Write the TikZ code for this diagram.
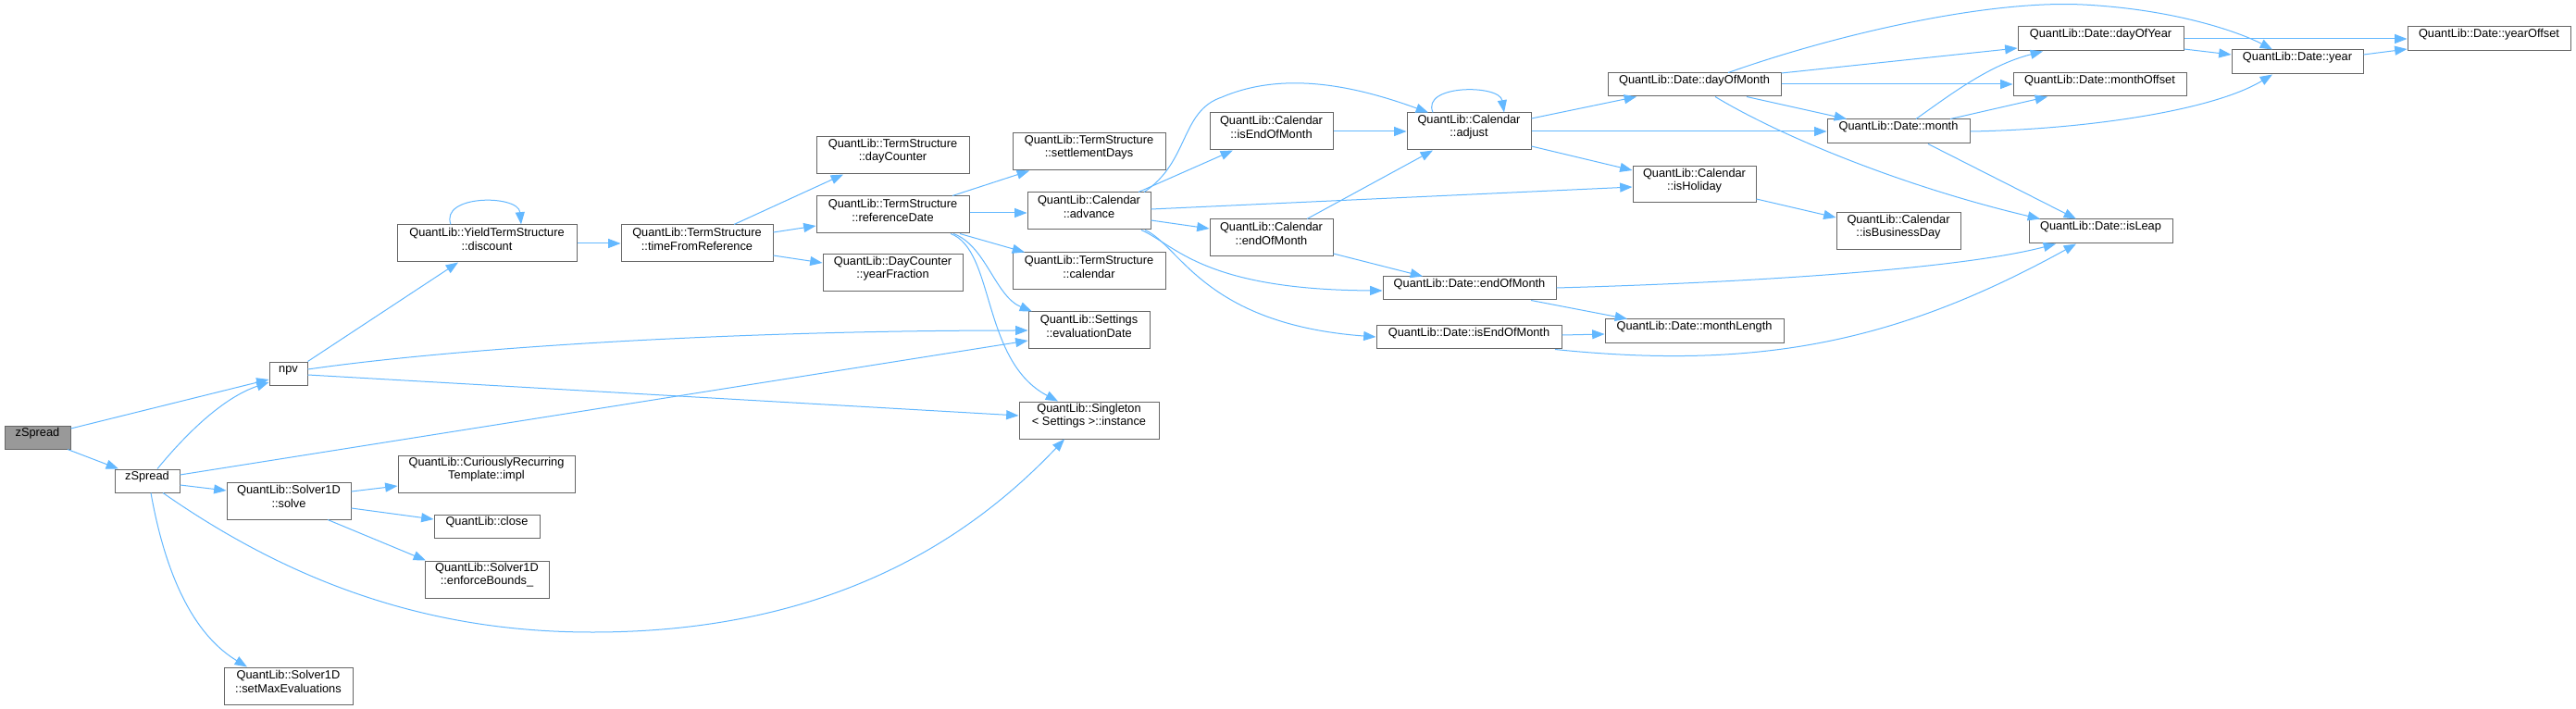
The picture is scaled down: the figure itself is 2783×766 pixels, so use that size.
\documentclass[tikz,border=0pt]{standalone}
\usepackage{fontspec}
\setmainfont{Liberation Sans}
\usetikzlibrary{fit,arrows.meta}
\definecolor{edgeblue}{HTML}{63B8FF}
\definecolor{boxgray}{HTML}{666666}
\definecolor{rootgray}{HTML}{999999}
\tikzset{
  box/.style={draw=boxgray, fill=white, line width=0.75pt, inner sep=0pt, align=center,
    font=\fontsize{9.6}{10.7}\selectfont},
  rootbox/.style={box, fill=rootgray},
  edge/.style={draw=edgeblue, line width=0.75pt, -{Triangle[length=10pt,width=7.5pt]}}
}
\begin{document}
\begin{tikzpicture}[x=0.75pt,y=-0.75pt]
\fill[white] (0,0) rectangle (2783,766);
\useasboundingbox (0,0) rectangle (2783,766);
% nodes
\node[rootbox, fit={(5,460) (76,485)}] (root) {zSpread};
\node[box, fit={(291,391) (332,416)}] (npv) {npv};
\node[box, fit={(124,507) (194,532)}] (zs2) {zSpread};
\node[box, fit={(245,521) (379,561)}] (solve) {QuantLib::Solver1D\\::solve};
\node[box, fit={(242,721) (381,761)}] (setmax) {QuantLib::Solver1D\\::setMaxEvaluations};
\node[box, fit={(429,243) (623,283)}] (disc) {QuantLib::YieldTermStructure\\::discount};
\node[box, fit={(671,243) (835,283)}] (tfr) {QuantLib::TermStructure\\::timeFromReference};
\node[box, fit={(430,492) (621,532)}] (crt) {QuantLib::CuriouslyRecurring\\Template::impl};
\node[box, fit={(469,556) (583,581)}] (close) {QuantLib::close};
\node[box, fit={(459,606) (593,646)}] (enf) {QuantLib::Solver1D\\::enforceBounds\_};
\node[box, fit={(882,148) (1047,188)}] (dayc) {QuantLib::TermStructure\\::dayCounter};
\node[box, fit={(882,212) (1047,252)}] (refd) {QuantLib::TermStructure\\::referenceDate};
\node[box, fit={(889,275) (1040,315)}] (yfr) {QuantLib::DayCounter\\::yearFraction};
\node[box, fit={(1094,144) (1259,184)}] (setd) {QuantLib::TermStructure\\::settlementDays};
\node[box, fit={(1110,208) (1243,248)}] (adv) {QuantLib::Calendar\\::advance};
\node[box, fit={(1094,273) (1259,313)}] (cal) {QuantLib::TermStructure\\::calendar};
\node[box, fit={(1111,337) (1242,377)}] (evd) {QuantLib::Settings\\::evaluationDate};
\node[box, fit={(1101,434) (1252,474)}] (inst) {QuantLib::Singleton\\< Settings >::instance};
\node[box, fit={(1307,122) (1440,162)}] (ieom) {QuantLib::Calendar\\::isEndOfMonth};
\node[box, fit={(1520,122) (1654,162)}] (adj) {QuantLib::Calendar\\::adjust};
\node[box, fit={(1307,237) (1440,277)}] (ceom) {QuantLib::Calendar\\::endOfMonth};
\node[box, fit={(1494,299) (1681,324)}] (deom) {QuantLib::Date::endOfMonth};
\node[box, fit={(1487,352) (1687,377)}] (disem) {QuantLib::Date::isEndOfMonth};
\node[box, fit={(1737,79) (1924,104)}] (dom) {QuantLib::Date::dayOfMonth};
\node[box, fit={(1764,180) (1897,219)}] (hol) {QuantLib::Calendar\\::isHoliday};
\node[box, fit={(1734,345) (1927,371)}] (mlen) {QuantLib::Date::monthLength};
\node[box, fit={(2180,29) (2359,55)}] (doy) {QuantLib::Date::dayOfYear};
\node[box, fit={(2411,54) (2553,80)}] (year) {QuantLib::Date::year};
\node[box, fit={(2601,29) (2777,55)}] (yoff) {QuantLib::Date::yearOffset};
\node[box, fit={(2175,79) (2362,104)}] (moff) {QuantLib::Date::monthOffset};
\node[box, fit={(1974,129) (2128,155)}] (month) {QuantLib::Date::month};
\node[box, fit={(1984,230) (2118,270)}] (bday) {QuantLib::Calendar\\::isBusinessDay};
\node[box, fit={(2192,237) (2347,263)}] (leap) {QuantLib::Date::isLeap};
% edges
\draw[edge] (root.east |- 0,463) -- (npv.west |- 0,410);
\draw[edge] (root.south -| 73,0) -- (zs2.north -| 128,0);
\draw[edge] (npv.north east) -- (disc.south -| 495,0);
\draw[edge] (npv.east |- 0,399) .. controls (500,375) and (800,357) .. (evd.west |- 0,357);
\draw[edge] (npv.east |- 0,405) -- (inst.west |- 0,449);
\draw[edge] (zs2.north -| 170,0) .. controls (200,470) and (240,430) .. (npv.west |- 0,413);
\draw[edge] (zs2.east |- 0,513) -- (evd.west |- 0,368);
\draw[edge] (zs2.east |- 0,524) -- (solve.west |- 0,530);
\draw[edge] (zs2.south -| 176,0) .. controls (330,640) and (480,683) .. (640,683) .. controls (900,683) and (1050,580) .. (inst.south -| 1150,0);
\draw[edge] (zs2.south -| 163,0) .. controls (175,600) and (200,680) .. (setmax.north -| 267,0);
\draw[edge] (solve.east |- 0,531) -- (crt.west |- 0,525);
\draw[edge] (solve.east |- 0,549) -- (close.west |- 0,561);
\draw[edge] (solve.south -| 354,0) -- (enf.north -| 460,0);
\draw[edge] (disc.north -| 487,0) .. controls (475,210) and (560,210) .. (disc.north -| 563,0);
\draw[edge] (disc.east |- 0,263) -- (tfr.west |- 0,263);
\draw[edge] (tfr.north -| 793,0) -- (dayc.south -| 911,0);
\draw[edge] (tfr.east |- 0,251) -- (refd.west |- 0,244);
\draw[edge] (tfr.east |- 0,276) -- (yfr.west |- 0,284);
\draw[edge] (refd.north -| 1029,0) -- (setd.south -| 1112,0);
\draw[edge] (refd.east |- 0,230) -- (adv.west |- 0,230);
\draw[edge] (refd.south -| 1037,0) -- (cal.north -| 1107,0);
\draw[edge] (refd.south -| 1030,0) .. controls (1065,265) and (1075,320) .. (evd.north -| 1115,0);
\draw[edge] (refd.south -| 1027,0) .. controls (1075,270) and (1060,390) .. (inst.north -| 1143,0);
\draw[edge] (adv.north -| 1236,0) .. controls (1285,175) and (1275,120) .. (1320,105) .. controls (1390,75) and (1470,95) .. (adj.north -| 1543,0);
\draw[edge] (adv.north -| 1230,0) -- (ieom.south -| 1332,0);
\draw[edge] (adv.east |- 0,226) -- (hol.west |- 0,202);
\draw[edge] (adv.east |- 0,238) -- (ceom.west |- 0,247);
\draw[edge] (adv.south -| 1233,0) .. controls (1270,265) and (1300,313) .. (deom.west |- 0,314);
\draw[edge] (adv.south -| 1237,0) .. controls (1275,265) and (1300,350) .. (disem.west |- 0,364);
\draw[edge] (ieom.east |- 0,142) -- (adj.west |- 0,142);
\draw[edge] (ceom.north -| 1412,0) -- (adj.south -| 1548,0);
\draw[edge] (ceom.east |- 0,274) -- (deom.north -| 1537,0);
\draw[edge] (adj.north -| 1548,0) .. controls (1535,91) and (1620,91) .. (adj.north -| 1625,0);
\draw[edge] (adj.east |- 0,128) -- (dom.south -| 1768,0);
\draw[edge] (adj.east |- 0,142) -- (month.west |- 0,142);
\draw[edge] (adj.east |- 0,158) -- (hol.west |- 0,184);
\draw[edge] (dom.north -| 1867,0) .. controls (1990,35) and (2150,0) .. (2250,5) .. controls (2350,10) and (2420,35) .. (year.north -| 2455,0);
\draw[edge] (dom.east |- 0,79) -- (doy.west |- 0,52);
\draw[edge] (dom.east |- 0,91) -- (moff.west |- 0,91);
\draw[edge] (dom.south -| 1887,0) -- (month.north -| 1995,0);
\draw[edge] (dom.south -| 1853,0) .. controls (1920,145) and (2050,200) .. (leap.north -| 2204,0);
\draw[edge] (month.north -| 2070,0) .. controls (2110,100) and (2150,70) .. (doy.south -| 2207,0);
\draw[edge] (month.north -| 2107,0) -- (moff.south -| 2212,0);
\draw[edge] (month.east |- 0,142) .. controls (2250,140) and (2390,120) .. (year.south -| 2455,0);
\draw[edge] (month.south -| 2083,0) -- (leap.north -| 2243,0);
\draw[edge] (doy.east |- 0,42) -- (yoff.west |- 0,42);
\draw[edge] (doy.east |- 0,53) -- (year.west |- 0,59);
\draw[edge] (year.east |- 0,59) -- (yoff.west |- 0,53);
\draw[edge] (hol.east |- 0,215) -- (bday.west |- 0,235);
\draw[edge] (deom.east |- 0,311) .. controls (1900,305) and (2120,290) .. (leap.south -| 2221,0);
\draw[edge] (deom.south -| 1654,0) -- (mlen.north -| 1758,0);
\draw[edge] (disem.east |- 0,362) -- (mlen.west |- 0,361);
\draw[edge] (disem.south -| 1680,0) .. controls (1900,400) and (2050,370) .. (leap.south -| 2243,0);
\end{tikzpicture}
\end{document}
